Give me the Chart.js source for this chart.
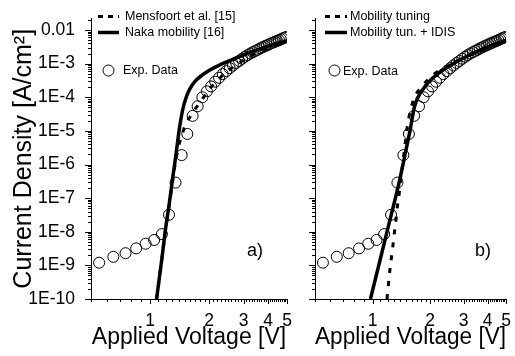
<!DOCTYPE html>
<html><head><meta charset="utf-8">
<script src="https://cdn.jsdelivr.net/npm/chart.js@4.4.1/dist/chart.umd.min.js"></script>
<style>
html,body{margin:0;padding:0;background:#fff;}
#wrap{position:relative;width:515px;height:356px;overflow:hidden;font-family:"Liberation Sans",Arial,Helvetica,sans-serif;}
#c1{position:absolute;left:0;top:0;}
#c2{position:absolute;left:300px;top:0;}
.t{position:absolute;font-size:12.5px;line-height:12.5px;color:#000;white-space:nowrap;}
.p{position:absolute;font-size:18px;line-height:18px;color:#000;white-space:nowrap;}
</style></head><body>
<div id="wrap">
<canvas id="c1" width="300" height="356"></canvas>
<canvas id="c2" width="215" height="356"></canvas>
<div class="t" style="left:125px;top:10px">Mensfoort et al. [15]</div>
<div class="t" style="left:125px;top:26px">Naka mobility [16]</div>
<div class="t" style="left:123px;top:64px">Exp. Data</div>
<div class="t" style="left:350px;top:10px">Mobility tuning</div>
<div class="t" style="left:350px;top:26px">Mobility tun. + IDIS</div>
<div class="t" style="left:343px;top:65px">Exp. Data</div>
<div class="p" style="left:247px;top:241px">a)</div>
<div class="p" style="left:475px;top:241px">b)</div>
</div>
<script>
// ---- data ----
const expV = [0.55,0.65,0.75,0.85,0.95,1.05,1.15,1.25,1.35,1.45,1.55,1.65,1.75,1.85,1.95,2.05,2.15,2.25,2.35,2.45,2.55,2.65,2.75,2.85,2.95,3.05,3.15,3.25,3.35,3.45,3.55,3.65,3.75,3.85,3.95,4.05,4.15,4.25,4.35,4.45,4.55,4.65,4.75,4.85,4.95];
const expJ = [1.2e-9,1.8e-9,2.3e-9,3.2e-9,4.4e-9,5.7e-9,8.5e-9,3.2e-8,2.9e-7,1.9e-6,8.1e-6,2.8e-5,5.4e-5,1.0e-4,1.5e-4,2.1e-4,2.9e-4,3.8e-4,4.9e-4,6.0e-4,7.3e-4,8.8e-4,1.05e-3,1.2e-3,1.4e-3,1.6e-3,1.8e-3,2.0e-3,2.2e-3,2.4e-3,2.6e-3,2.85e-3,3.05e-3,3.3e-3,3.5e-3,3.75e-3,4.0e-3,4.25e-3,4.5e-3,4.75e-3,5.0e-3,5.3e-3,5.6e-3,5.9e-3,6.2e-3];

const mensV = [1.08,1.15,1.2,1.25,1.3,1.35,1.4,1.45,1.5,1.6,1.7,1.8,2.0,2.3,2.7,3.2,3.8,4.4,5.0];
const mensJ = [1e-10,1.6e-9,1.1e-8,5.5e-8,2.8e-7,1.2e-6,3.5e-6,7e-6,1.3e-5,2.6e-5,4.5e-5,7e-5,1.7e-4,4e-4,8.5e-4,1.6e-3,2.6e-3,3.6e-3,4.6e-3];

const nakaV = [1.08,1.15,1.2,1.25,1.31,1.36,1.41,1.47,1.53,1.6,1.7,1.85,2.0,2.3,2.7,3.2,3.8,4.4,5.0];
const nakaJ = [1e-10,1.6e-9,1.2e-8,6e-8,4.6e-7,2.2e-6,1.1e-5,4.4e-5,1.0e-4,1.8e-4,3.0e-4,4.6e-4,6.3e-4,9.5e-4,1.4e-3,2.1e-3,3.0e-3,3.9e-3,4.8e-3];

const tunV = [1.19,1.23,1.25,1.275,1.30,1.325,1.35,1.38,1.40,1.46,1.52,1.64,1.8,2.1,2.6,3.2,3.8,4.4,5.0];
const tunJ = [1e-10,6.6e-10,1.4e-9,3.4e-9,9e-9,2.1e-8,5.8e-8,1.4e-7,3e-7,2.1e-6,1.35e-5,8.5e-5,2.0e-4,4.9e-4,1.0e-3,1.75e-3,2.6e-3,3.6e-3,4.8e-3];

const idisV = [0.975,1.1,1.2,1.3,1.377,1.48,1.57,1.66,1.87,2.2,2.77,3.74,5.0];
const idisJ = [1e-10,1.6e-9,1.2e-8,7.4e-8,2.9e-7,2e-6,1e-5,5.4e-5,2.0e-4,5e-4,1.15e-3,2.7e-3,5.0e-3];

const xMajor = [1,2,3,4,5];
const xTickLabels = ['1','2','3','4','5'];
const yMajor = [1e-10,1e-9,1e-8,1e-7,1e-6,1e-5,1e-4,1e-3,1e-2];
const yTickLabels = ['1E-10','1E-9','1E-8','1E-7','1E-6','1E-5','1E-4','1E-3','0.01'];

const xTitle = 'Applied Voltage [V]';
const yTitle = 'Current Density [A/cm\u00B2]';

// ---- helpers ----
const FONT = '"Liberation Sans", Arial, Helvetica, sans-serif';
Chart.defaults.font.family = FONT;
Chart.defaults.color = '#000';

function pts(xs, ys){ return xs.map((x,i)=>({x:x, y:ys[i]})); }
function near(a,b){ return Math.abs(Math.log10(a)-Math.log10(b))<1e-6; }
function labelFor(v, majors, labels){
  for (let i=0;i<majors.length;i++){ if (near(v, majors[i])) return labels[i]; }
  return '';
}
function buildXTicks(scale){
  const out=[];
  for (let k=5;k<=50;k++) out.push({value:k/10});
  scale.ticks = out;
}
function buildYTicks(scale){
  const out=[];
  for (let e=-10;e<=-2;e++){
    for (let m=1;m<=9;m++){
      const v = m*Math.pow(10,e);
      if (v <= scale.max*1.0001) out.push({value:v});
    }
  }
  scale.ticks = out;
}

const tickMarks = {
  id:'tickMarks',
  afterDraw(chart){
    const ctx = chart.ctx, xs = chart.scales.x, ys = chart.scales.y;
    ctx.save(); ctx.strokeStyle='#000'; ctx.lineWidth=1; ctx.beginPath();
    xs.ticks.forEach(t=>{
      const p = Math.round(xs.getPixelForValue(t.value))+0.5;
      const L = xMajor.some(m=>near(m,t.value)) ? 5 : 3;
      ctx.moveTo(p, chart.chartArea.bottom); ctx.lineTo(p, chart.chartArea.bottom+L);
    });
    ys.ticks.forEach(t=>{
      const p = Math.round(ys.getPixelForValue(t.value))+0.5;
      const L = yMajor.some(m=>near(m,t.value)) ? 6 : 3;
      ctx.moveTo(chart.chartArea.left, p); ctx.lineTo(chart.chartArea.left-L, p);
    });
    ctx.stroke(); ctx.restore();
  }
};

function legendPlugin(x0, x1, cx){
  return {
    id:'legendSamples',
    afterDraw(chart){
      const ctx = chart.ctx;
      ctx.save(); ctx.strokeStyle='#000';
      ctx.lineWidth=3; ctx.setLineDash([5,5]);
      ctx.beginPath(); ctx.moveTo(x0,16.5); ctx.lineTo(x1,16.5); ctx.stroke();
      ctx.setLineDash([]); ctx.lineWidth=3.5;
      ctx.beginPath(); ctx.moveTo(x0,32.5); ctx.lineTo(x1,32.5); ctx.stroke();
      ctx.lineWidth=1;
      ctx.beginPath(); ctx.arc(cx,70.5,5.5,0,Math.PI*2); ctx.stroke();
      ctx.restore();
    }
  };
}

function lineDs(label, xs, ys, dashed){
  return {label, data:pts(xs,ys), borderColor:'#000', backgroundColor:'#000',
    borderWidth: dashed?3:3.5, borderDash: dashed?[5,8]:[], pointRadius:0,
    fill:false, cubicInterpolationMode:'monotone', showLine:true};
}
function expDs(){
  return {label:'Exp. Data', data:pts(expV,expJ), showLine:false, pointRadius:5.5,
    pointStyle:'circle', pointBorderWidth:1, pointBorderColor:'#000',
    pointBackgroundColor:'rgba(0,0,0,0)', borderColor:'#000', backgroundColor:'rgba(0,0,0,0)'};
}

function makeChart(id, datasets, cfg){
  return new Chart(document.getElementById(id), {
    type:'line',
    data:{datasets},
    options:{
      responsive:false, animation:false, devicePixelRatio:1,
      layout:{padding:cfg.padding},
      plugins:{legend:{display:false}, tooltip:{enabled:false}},
      scales:{
        x:{type:'logarithmic', min:0.5, max:5,
          afterBuildTicks:buildXTicks, afterFit:s=>{s.height=57;},
          grid:{display:false}, border:{display:true,color:'#000',width:1},
          ticks:{autoSkip:false,maxRotation:0,minRotation:0,padding:4,color:'#000',
            font:{family:FONT,size:17.5}, callback:v=>labelFor(v,xMajor,xTickLabels)},
          title:{display:true,text:xTitle,color:'#000',font:{family:FONT,size:23},padding:{top:0,bottom:5}}
        },
        y:{type:'logarithmic', min:1e-10, max:0.022,
          afterBuildTicks:buildYTicks, afterFit:s=>{s.width=cfg.yWidth;},
          grid:{display:false}, border:{display:true,color:'#000',width:1},
          ticks:{autoSkip:false,padding:8,color:'#000',font:{family:FONT,size:17.5},
            callback:v=> cfg.yLabels ? labelFor(v,yMajor,yTickLabels) : ''},
          title:{display:cfg.yLabels,text:yTitle,color:'#000',font:{family:FONT,size:25},padding:{top:9,bottom:0}}
        }
      }
    },
    plugins:[tickMarks, cfg.legend]
  });
}

makeChart('c1', [
  lineDs('Mensfoort et al. [15]', mensV, mensJ, true),
  lineDs('Naka mobility [16]', nakaV, nakaJ, false),
  expDs()
], {padding:{top:5,right:13,left:0,bottom:0}, yWidth:91, yLabels:true, legend:legendPlugin(98,119,108.5)});

makeChart('c2', [
  lineDs('Mobility tuning', tunV, tunJ, true),
  lineDs('Mobility tun. + IDIS', idisV, idisJ, false),
  expDs()
], {padding:{top:5,right:1,left:0,bottom:0}, yWidth:15, yLabels:false, legend:legendPlugin(25,47,34.5)});
</script>
</body></html>
